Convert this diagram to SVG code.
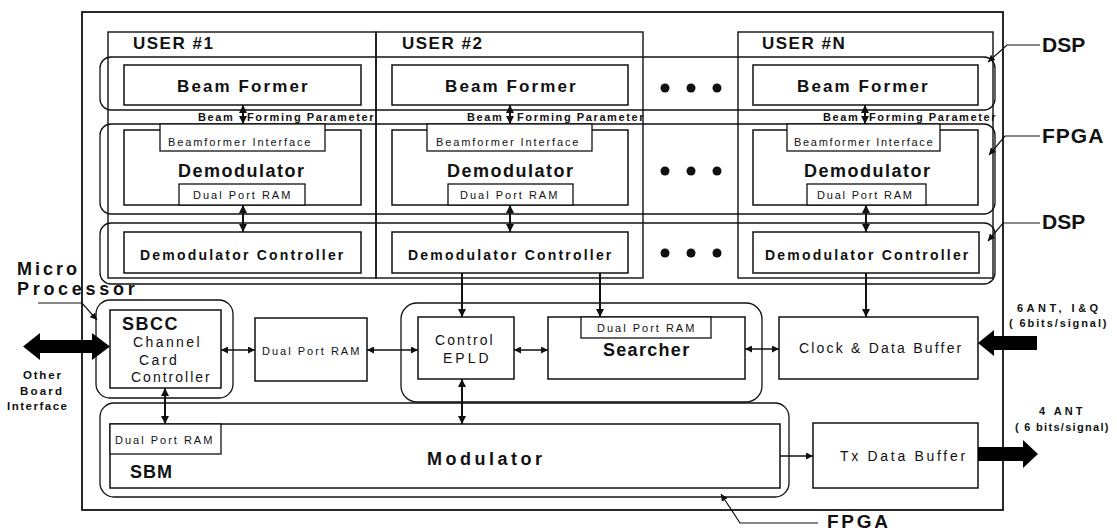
<svg xmlns="http://www.w3.org/2000/svg" width="1117" height="532" viewBox="0 0 1117 532">
  <style>
    text { font-family: "Liberation Sans", Arial, Helvetica, sans-serif; fill: #111; }
    .b { font-weight: bold; }
    .frame { fill: none; stroke: #111; stroke-width: 1.8; }
    .col { fill: none; stroke: #111; stroke-width: 1.4; }
    .band { fill: none; stroke: #111; stroke-width: 1.3; }
    .box { fill: #fff; stroke: #111; stroke-width: 1.5; }
    .sub { fill: #fff; stroke: #111; stroke-width: 1.3; }
    .link { fill: none; stroke: #111; stroke-width: 2; }
    .thin { fill: none; stroke: #111; stroke-width: 1.3; }
    .lead { fill: none; stroke: #111; stroke-width: 1.2; }
    .big { fill: #000; }
    .dot { fill: #111; }
  </style>
  <defs>
    <marker id="ah" viewBox="0 0 10 10" refX="10" refY="5" markerWidth="8" markerHeight="8" markerUnits="userSpaceOnUse" orient="auto-start-reverse">
      <path d="M0,0 L10,5 L0,10 z" fill="#111"/>
    </marker>
    <marker id="ahs" viewBox="0 0 10 10" refX="10" refY="5" markerWidth="7" markerHeight="7" markerUnits="userSpaceOnUse" orient="auto-start-reverse">
      <path d="M0,0 L10,5 L0,10 z" fill="#111"/>
    </marker>
  </defs>

  <!-- board outline -->
  <rect class="frame" x="82" y="12" width="921" height="498"/>

  <!-- per-user columns -->
  <g id="user-columns">
    <rect class="col" x="108" y="32" width="268" height="246"/>
    <rect class="col" x="376" y="32" width="267" height="246"/>
    <rect class="col" x="738" y="32" width="255" height="246"/>
    <text class="b" x="133" y="49" font-size="17" letter-spacing="1.5">USER #1</text>
    <text class="b" x="402" y="49" font-size="17" letter-spacing="1.5">USER #2</text>
    <text class="b" x="762" y="49" font-size="17" letter-spacing="1.5">USER #N</text>
  </g>

  <!-- device bands (DSP / FPGA / DSP) -->
  <g id="bands">
    <rect class="band" x="100" y="57" width="895" height="53" rx="11"/>
    <rect class="band" x="100" y="124" width="895" height="90" rx="11"/>
    <rect class="band" x="100" y="223" width="895" height="61" rx="11"/>
    <rect class="band" x="96" y="300" width="137" height="98" rx="14"/>
    <rect class="band" x="401" y="303" width="361" height="99" rx="16"/>
    <rect class="band" x="100" y="403" width="689" height="94" rx="14"/>
  </g>

  <!-- ellipsis dots between user #2 and user #N -->
  <g id="ellipsis">
    <circle class="dot" cx="665" cy="88" r="4.5"/><circle class="dot" cx="691" cy="88" r="4.5"/><circle class="dot" cx="717" cy="88" r="4.5"/>
    <circle class="dot" cx="665" cy="171" r="4.5"/><circle class="dot" cx="691" cy="171" r="4.5"/><circle class="dot" cx="717" cy="171" r="4.5"/>
    <circle class="dot" cx="665" cy="253" r="4.5"/><circle class="dot" cx="691" cy="253" r="4.5"/><circle class="dot" cx="717" cy="253" r="4.5"/>
  </g>

  <!-- user #1 -->
  <g id="bf1"><rect class="box" x="124" y="65" width="237" height="40"/>
    <text class="b" x="177" y="92" font-size="17" letter-spacing="2.1">Beam Former</text></g>
  <g id="dm1"><rect class="box" x="124" y="130" width="237" height="75"/>
    <rect class="sub" x="160" y="124" width="165" height="27"/>
    <text x="168" y="146" font-size="11" letter-spacing="1.9">Beamformer Interface</text>
    <text class="b" x="178" y="177" font-size="18" letter-spacing="1.5">Demodulator</text>
    <rect class="sub" x="179" y="184" width="126" height="21"/>
    <text x="193" y="199" font-size="11" letter-spacing="2">Dual Port RAM</text></g>
  <g id="dc1"><rect class="box" x="124" y="232" width="237" height="41"/>
    <text class="b" x="140" y="260" font-size="14" letter-spacing="2.2">Demodulator Controller</text></g>

  <!-- user #2 -->
  <g id="bf2"><rect class="box" x="392" y="65" width="236" height="40"/>
    <text class="b" x="445" y="92" font-size="17" letter-spacing="2.1">Beam Former</text></g>
  <g id="dm2"><rect class="box" x="392" y="130" width="236" height="75"/>
    <rect class="sub" x="427" y="124" width="165" height="27"/>
    <text x="436" y="146" font-size="11" letter-spacing="1.9">Beamformer Interface</text>
    <text class="b" x="447" y="177" font-size="18" letter-spacing="1.5">Demodulator</text>
    <rect class="sub" x="448" y="184" width="125" height="21"/>
    <text x="460" y="199" font-size="11" letter-spacing="2">Dual Port RAM</text></g>
  <g id="dc2"><rect class="box" x="392" y="232" width="236" height="41"/>
    <text class="b" x="408" y="260" font-size="14" letter-spacing="2.2">Demodulator Controller</text></g>

  <!-- user #N -->
  <g id="bfN"><rect class="box" x="753" y="65" width="225" height="40"/>
    <text class="b" x="797" y="92" font-size="17" letter-spacing="2.1">Beam Former</text></g>
  <g id="dmN"><rect class="box" x="753" y="130" width="225" height="75"/>
    <rect class="sub" x="787" y="124" width="153" height="27"/>
    <text x="794" y="146" font-size="11" letter-spacing="1.7">Beamformer Interface</text>
    <text class="b" x="804" y="177" font-size="18" letter-spacing="1.5">Demodulator</text>
    <rect class="sub" x="807" y="184" width="119" height="21"/>
    <text x="817" y="199" font-size="11" letter-spacing="1.8">Dual Port RAM</text></g>
  <g id="dcN"><rect class="box" x="753" y="232" width="226" height="41"/>
    <text class="b" x="765" y="260" font-size="14" letter-spacing="2.2">Demodulator Controller</text></g>

  <!-- shared channel-card blocks -->
  <g id="sbcc"><rect class="box" x="110" y="310" width="111" height="78"/>
    <text class="b" x="122" y="330" font-size="18" letter-spacing="1.5">SBCC</text>
    <text x="133" y="347" font-size="14" letter-spacing="2.4">Channel</text>
    <text x="139" y="365" font-size="14" letter-spacing="2.5">Card</text>
    <text x="131" y="382" font-size="14" letter-spacing="2">Controller</text></g>
  <g id="dpram"><rect class="box" x="255" y="318" width="112" height="63"/>
    <text x="262" y="355" font-size="11" letter-spacing="2">Dual Port RAM</text></g>
  <g id="epld"><rect class="box" x="418" y="317" width="96" height="62"/>
    <text x="435" y="345" font-size="14" letter-spacing="2.1">Control</text>
    <text x="443" y="363" font-size="14" letter-spacing="3">EPLD</text></g>
  <g id="searcher"><rect class="box" x="548" y="317" width="197" height="62"/>
    <rect class="sub" x="581" y="317" width="130" height="21"/>
    <text x="597" y="332" font-size="11" letter-spacing="2">Dual Port RAM</text>
    <text class="b" x="603" y="356" font-size="18" letter-spacing="1.3">Searcher</text></g>
  <g id="clockbuf"><rect class="box" x="779" y="317" width="199" height="62"/>
    <text x="799" y="353" font-size="14" letter-spacing="2.2">Clock &amp; Data Buffer</text></g>
  <g id="modulator"><rect class="box" x="110" y="424" width="670" height="64"/>
    <rect class="sub" x="110" y="424" width="111" height="30"/>
    <text x="115" y="444" font-size="11" letter-spacing="2">Dual Port RAM</text>
    <text class="b" x="130" y="478" font-size="18" letter-spacing="1">SBM</text>
    <text class="b" x="427" y="465" font-size="18" letter-spacing="3.5">Modulator</text></g>
  <g id="txbuf"><rect class="box" x="813" y="423" width="165" height="65"/>
    <text x="840" y="461" font-size="14" letter-spacing="2.7">Tx Data Buffer</text></g>

  <!-- connectors -->
  <g id="connectors">
    <line class="link" x1="243" y1="105" x2="243" y2="124" marker-start="url(#ah)" marker-end="url(#ah)"/>
    <line class="link" x1="510" y1="105" x2="510" y2="124" marker-start="url(#ah)" marker-end="url(#ah)"/>
    <line class="link" x1="865" y1="105" x2="865" y2="124" marker-start="url(#ah)" marker-end="url(#ah)"/>
    <line class="link" x1="243" y1="205" x2="243" y2="232" marker-start="url(#ah)" marker-end="url(#ah)"/>
    <line class="link" x1="510" y1="205" x2="510" y2="232" marker-start="url(#ah)" marker-end="url(#ah)"/>
    <line class="link" x1="866" y1="205" x2="866" y2="232" marker-start="url(#ah)" marker-end="url(#ah)"/>
    <line class="link" x1="462" y1="273" x2="462" y2="317" marker-end="url(#ah)"/>
    <line class="link" x1="600" y1="273" x2="600" y2="317" marker-end="url(#ah)"/>
    <line class="link" x1="866" y1="273" x2="866" y2="317" marker-end="url(#ah)"/>
    <line class="link" x1="165" y1="388" x2="165" y2="424" marker-start="url(#ah)" marker-end="url(#ah)"/>
    <line class="link" x1="462" y1="379" x2="462" y2="424" marker-start="url(#ah)" marker-end="url(#ah)"/>
    <line class="thin" x1="221" y1="350" x2="255" y2="350" marker-start="url(#ahs)" marker-end="url(#ahs)"/>
    <line class="thin" x1="367" y1="350" x2="418" y2="350" marker-start="url(#ahs)" marker-end="url(#ahs)"/>
    <line class="thin" x1="514" y1="350" x2="548" y2="350" marker-start="url(#ahs)" marker-end="url(#ahs)"/>
    <line class="thin" x1="745" y1="349" x2="779" y2="349" marker-start="url(#ahs)" marker-end="url(#ahs)"/>
    <line class="thin" x1="780" y1="456" x2="813" y2="456" marker-end="url(#ahs)"/>
    <!-- external interfaces -->
    <polygon class="big" points="23,346.5 40,333 40,340 92,340 92,333 110,346.5 92,360 92,353 40,353 40,360"/>
    <polygon class="big" points="978,343 994,330 994,336 1037,336 1037,350 994,350 994,356"/>
    <polygon class="big" points="978,447 1023,447 1023,440 1038,454 1023,468 1023,461 978,461"/>
    <!-- callout leaders -->
    <polyline class="lead" points="1040,45 1007,45 988,62" marker-end="url(#ahs)"/>
    <polyline class="lead" points="1040,136 1005,136 989,155" marker-end="url(#ahs)"/>
    <polyline class="lead" points="1040,223 1003,223 988,241" marker-end="url(#ahs)"/>
    <polyline class="lead" points="38,303 82,303 97,320" marker-end="url(#ahs)"/>
    <polyline class="lead" points="818,523 740,523 721,494" marker-end="url(#ahs)"/>
  </g>

  <!-- bus labels -->
  <g id="bus-labels" class="b" font-size="11" letter-spacing="1.6">
    <text class="b" y="121"><tspan x="198">Beam </tspan><tspan x="247">Forming Parameter</tspan></text>
    <text class="b" y="121"><tspan x="467">Beam </tspan><tspan x="517">Forming Parameter</tspan></text>
    <text class="b" y="121"><tspan x="823">Beam </tspan><tspan x="869">Forming Parameter</tspan></text>
  </g>

  <!-- callouts -->
  <g id="callouts">
    <text class="b" x="1042" y="52" font-size="21">DSP</text>
    <text class="b" x="1042" y="143" font-size="21" letter-spacing="1">FPGA</text>
    <text class="b" x="1042" y="229" font-size="21">DSP</text>
    <text class="b" x="827" y="528" font-size="19" letter-spacing="2.7">FPGA</text>
    <text class="b" x="17" y="275" font-size="18" letter-spacing="3">Micro</text>
    <text class="b" x="17" y="295" font-size="18" letter-spacing="3.7">Processor</text>
    <text class="b" x="23" y="379" font-size="11.5" letter-spacing="1.8">Other</text>
    <text class="b" x="20" y="395" font-size="11.5" letter-spacing="2.2">Board</text>
    <text class="b" x="7" y="410" font-size="11.5" letter-spacing="1.5">Interface</text>
    <text class="b" x="1017" y="312" font-size="11" letter-spacing="3.5">6ANT, I&amp;Q</text>
    <text class="b" x="1009" y="327" font-size="11" letter-spacing="1.9">( 6bits/signal)</text>
    <text class="b" x="1039" y="415" font-size="11" letter-spacing="3">4 ANT</text>
    <text class="b" x="1015" y="431" font-size="11" letter-spacing="1.3">( 6 bits/signal)</text>
  </g>
</svg>
